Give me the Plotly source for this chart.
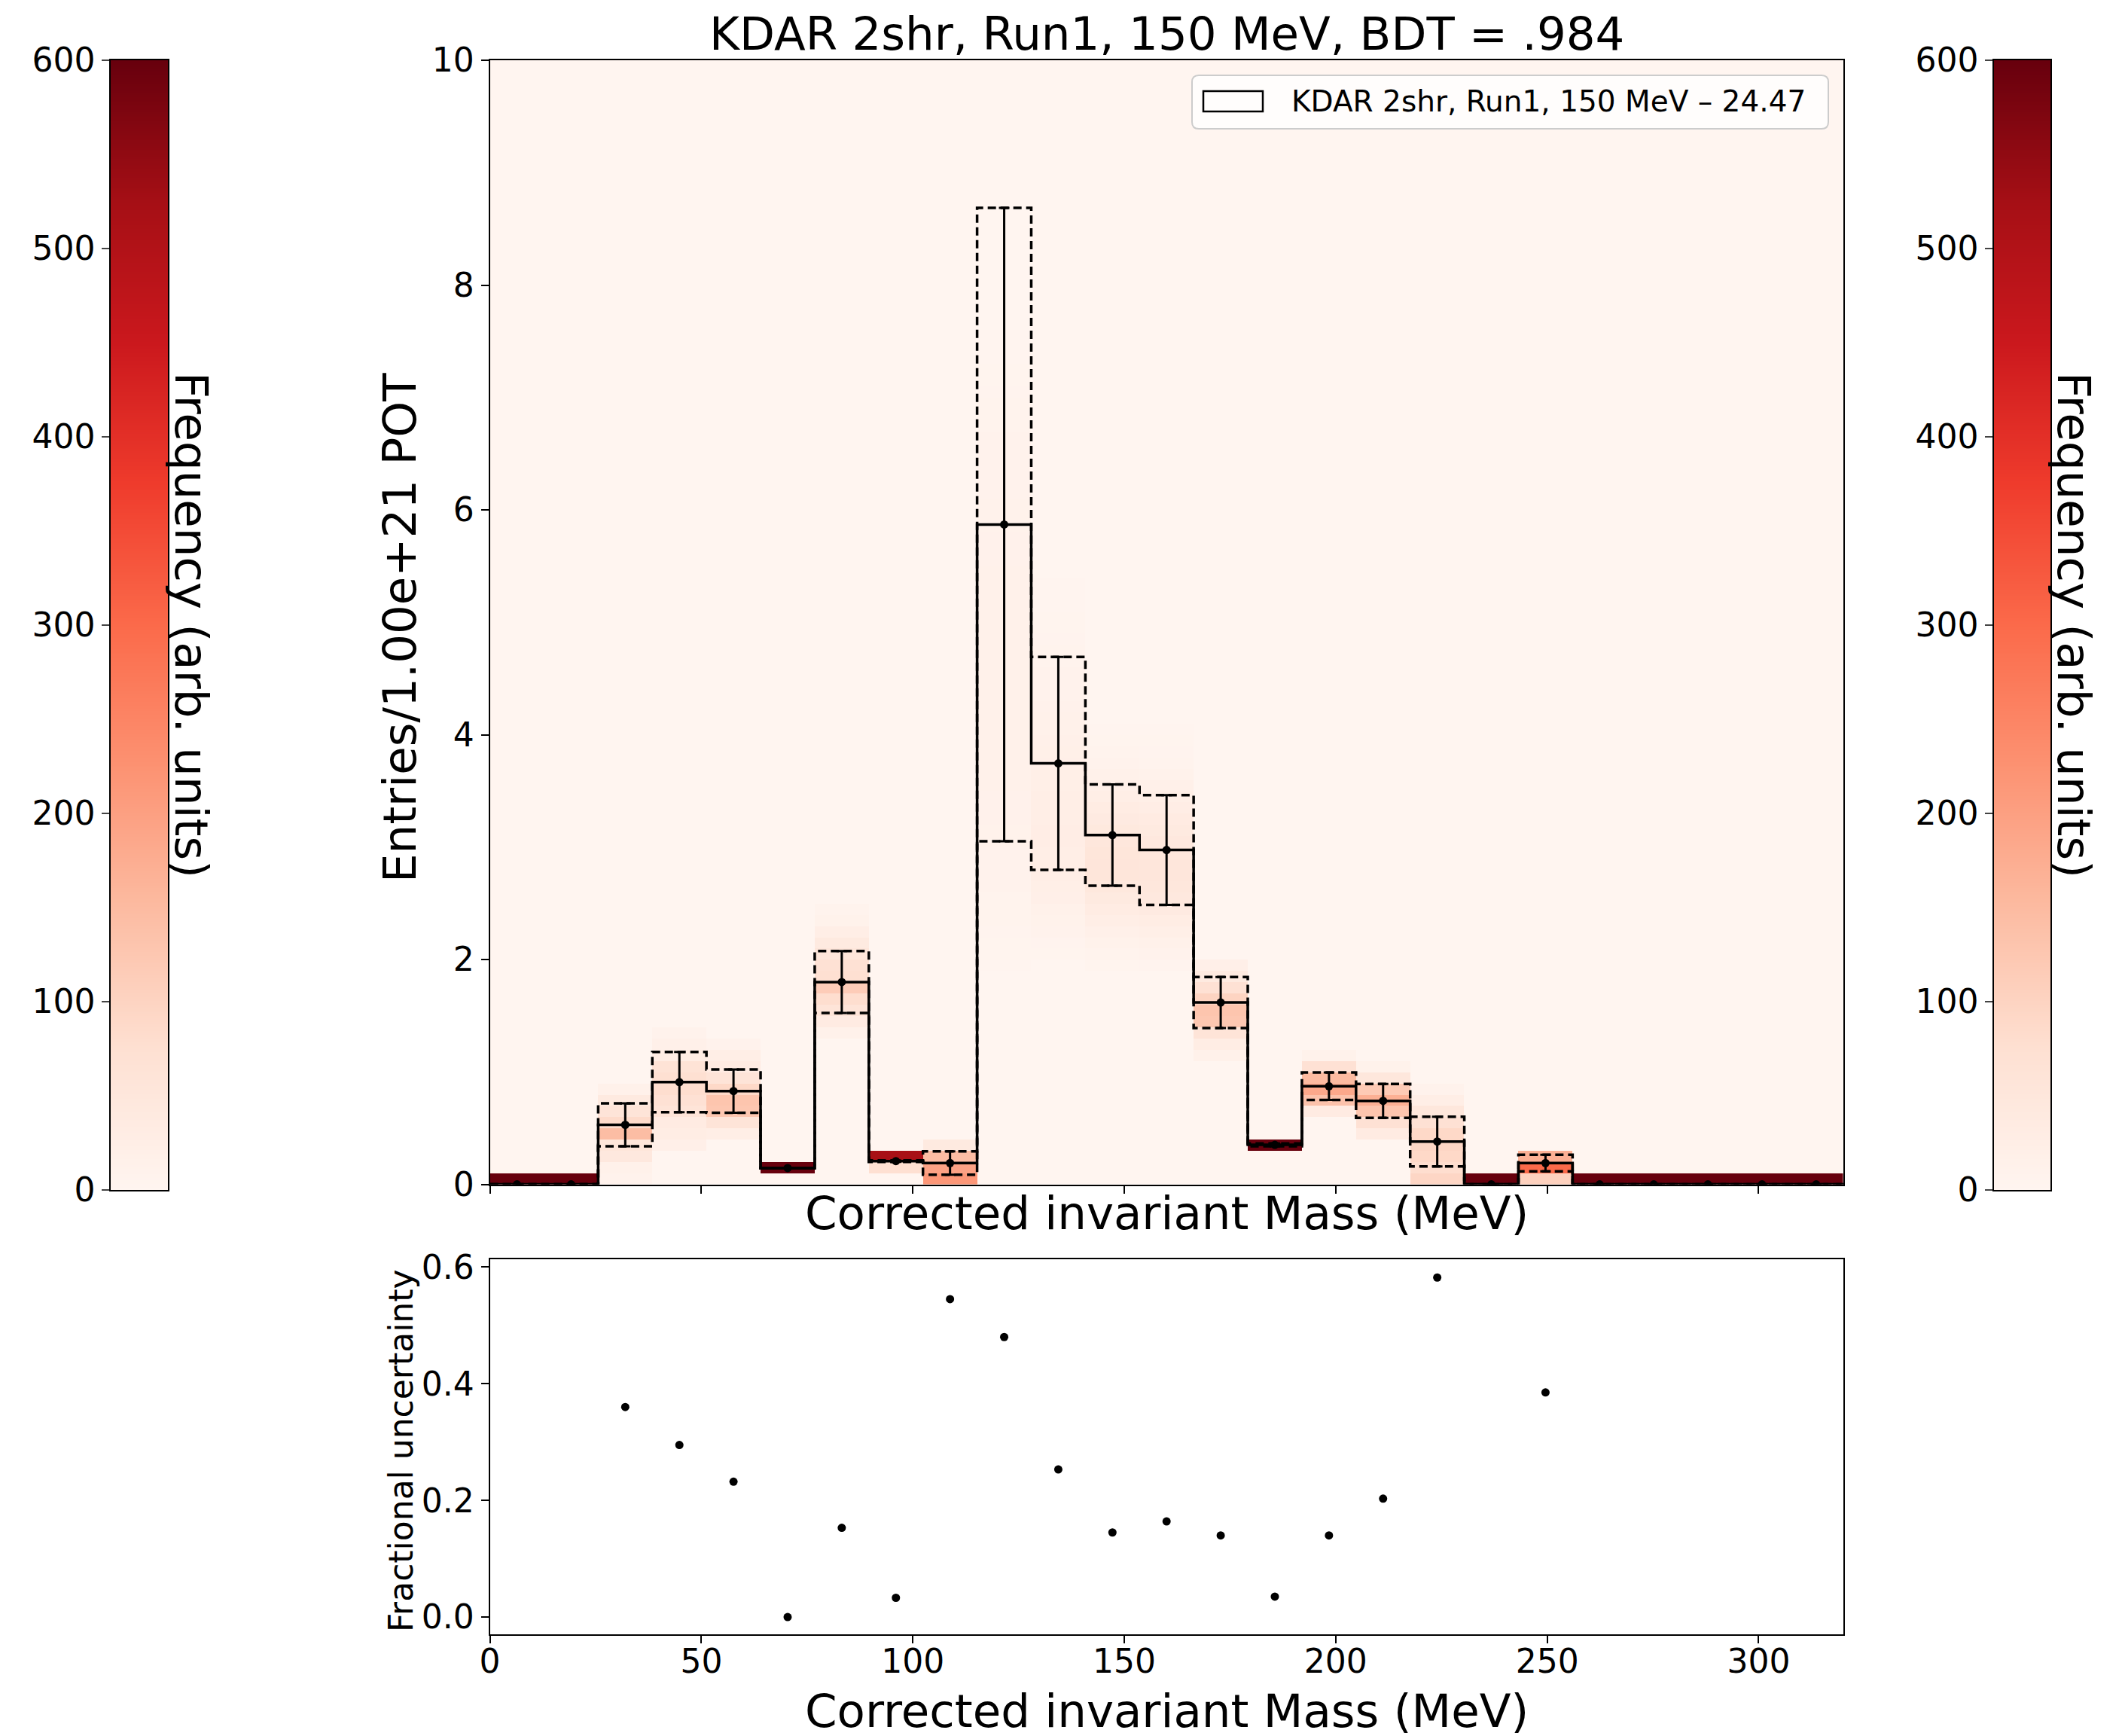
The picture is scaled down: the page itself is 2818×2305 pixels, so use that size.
import numpy as np
import plotly.graph_objects as go

W, H = 2818, 2305
FONT = "DejaVu Sans"

# ---- data -------------------------------------------------------------
# 25 mass bins of 12.8 MeV between 0 and 320 MeV
mass_edges = np.linspace(0.0, 320.0, 26)
mass_centers = 0.5 * (mass_edges[:-1] + mass_edges[1:])

# central value per bin (entries / 1e21 POT)
entries = [0.0, 0.0, 0.53, 0.91, 0.83, 0.145, 1.80, 0.207, 0.19, 5.87,
           3.745, 3.107, 2.975, 1.618, 0.352, 0.873, 0.743, 0.381, 0.0, 0.19,
           0.0, 0.0, 0.0, 0.0, 0.0]

# fractional uncertainty per bin (None where the bin is empty)
frac_unc = [None, None, 0.36, 0.295, 0.232, 0.0, 0.153, 0.033, 0.545, 0.48,
            0.253, 0.145, 0.164, 0.14, 0.035, 0.14, 0.203, 0.582, None, 0.385,
            None, None, None, None, None]

# toy-variation frequencies per bin: (first 0.1-wide row, counts upward)
toy_counts = {
    0: (0, [600]),
    1: (0, [600]),
    2: (0, [10, 15, 45, 55, 145, 85, 60, 40, 15]),
    3: (3, [20, 30, 35, 60, 70, 80, 75, 65, 30, 18, 10]),
    4: (4, [25, 60, 125, 130, 90, 60, 35, 25, 10]),
    5: (1, [600]),
    6: (13, [15, 35, 60, 80, 115, 75, 70, 55, 40, 25, 12, 8]),
    7: (1, [75, 520]),
    8: (0, [215, 195, 145, 40]),
    9: (19, [3, 4, 5, 6, 7, 8, 8, 9, 10, 10, 11,
             12, 12, 13, 13, 13, 14, 14, 14, 15, 15, 15, 15, 16, 16, 16, 16,
             16, 16, 15, 15, 15, 15, 14, 14, 14, 13, 13, 13, 12, 12, 12, 11,
             11, 10, 10, 9, 9, 8, 8, 7, 6, 5, 4, 3, 3, 2]),
    10: (20, [4, 6, 9, 12, 16, 20, 22, 24, 25, 26, 27, 27, 26, 25, 24, 23, 22,
              20, 19, 17, 16, 14, 13, 11, 10, 9, 8, 7, 6, 5, 4, 3, 3, 2]),
    11: (19, [5, 8, 12, 18, 25, 32, 40, 48, 54, 56, 55, 50, 44, 38, 32, 26,
              20, 15, 11, 8, 5, 3]),
    12: (19, [6, 10, 15, 22, 30, 38, 45, 50, 52, 52, 50, 45, 40, 34, 28, 22,
              17, 12, 8, 6, 4, 2]),
    13: (11, [15, 30, 60, 125, 130, 100, 70, 40, 20]),
    14: (3, [600]),
    15: (6, [35, 135, 185, 150, 70, 12]),
    16: (4, [35, 70, 130, 170, 120, 50, 12]),
    17: (0, [95, 80, 90, 95, 90, 70, 50, 25, 10]),
    18: (0, [600]),
    19: (0, [105, 300, 170]),
    20: (0, [600]),
    21: (0, [600]),
    22: (0, [600]),
    23: (0, [600]),
    24: (0, [600]),
}

legend_label = "KDAR 2shr, Run1, 150 MeV \u2013 24.47"
title_text = "KDAR 2shr, Run1, 150 MeV, BDT = .984"

# ---- derived arrays ---------------------------------------------------
entries = np.array(entries)
frac_arr = np.array([f if f is not None else 0.0 for f in frac_unc])
errors = entries * frac_arr
upper = entries + errors
lower = entries - errors

n_rows = 100
row_centers = 0.05 + 0.1 * np.arange(n_rows)
z = np.zeros((n_rows, len(mass_centers)))
for ib, (start, counts) in toy_counts.items():
    for k, c in enumerate(counts):
        z[start + k, ib] = c

REDS = [[0.0, "#fff5f0"], [0.125, "#fee0d2"], [0.25, "#fcbba1"],
        [0.375, "#fc9272"], [0.5, "#fb6a4a"], [0.625, "#ef3b2c"],
        [0.75, "#cb181d"], [0.875, "#a50f15"], [1.0, "#67000d"]]


def step_y(vals):
    return list(vals) + [vals[-1]]


fig = go.Figure()

# toy frequency map
fig.add_trace(go.Heatmap(
    x=mass_centers, y=row_centers, z=z, zmin=0, zmax=600,
    colorscale=REDS, showscale=False, hoverinfo="skip",
    xaxis="x", yaxis="y"))

# +/- 1 sigma envelopes
for band in (upper, lower):
    fig.add_trace(go.Scatter(
        x=mass_edges, y=step_y(band), mode="lines", line_shape="hv",
        line=dict(color="black", width=3.5, dash="11px,6px"),
        showlegend=False, hoverinfo="skip", xaxis="x", yaxis="y"))

# central histogram
fig.add_trace(go.Scatter(
    x=mass_edges, y=step_y(entries), mode="lines", line_shape="hv",
    line=dict(color="black", width=3.5),
    showlegend=False, hoverinfo="skip", xaxis="x", yaxis="y"))

# points with error bars
fig.add_trace(go.Scatter(
    x=mass_centers, y=entries, mode="markers",
    marker=dict(color="black", size=11),
    error_y=dict(type="data", array=errors, visible=True, color="black",
                 thickness=3, width=7),
    showlegend=False, hoverinfo="skip", xaxis="x", yaxis="y"))

# fractional uncertainty panel
fx = [c for c, f in zip(mass_centers, frac_unc) if f is not None]
fy = [f for f in frac_unc if f is not None]
fig.add_trace(go.Scatter(
    x=fx, y=fy, mode="markers", marker=dict(color="black", size=11),
    showlegend=False, hoverinfo="skip", xaxis="x2", yaxis="y2"))

# colour bars (left and right)
levels = np.linspace(0, 600, 601)
for xa, ya in (("x3", "y3"), ("x4", "y4")):
    fig.add_trace(go.Heatmap(
        x=[0], y=levels, z=[[v] for v in levels], zmin=0, zmax=600,
        colorscale=REDS, showscale=False, hoverinfo="skip",
        xaxis=xa, yaxis=ya))

# ---- layout -----------------------------------------------------------
def px_x(p):
    return p / W


def px_y(p):
    return 1 - p / H


tickfont = dict(family=FONT, size=44, color="black")
ax = dict(showline=True, linecolor="black", linewidth=2, mirror=True,
          ticks="outside", ticklen=10, tickwidth=2, tickcolor="black",
          showgrid=False, zeroline=False, tickfont=tickfont, automargin=False)

main_x = [px_x(650.6), px_x(2447.8)]
cb_ax = dict(showline=True, linecolor="black", linewidth=1.5, mirror=True,
             showgrid=False, zeroline=False, automargin=False)

fig.update_layout(
    width=W, height=H,
    margin=dict(l=0, r=0, t=0, b=0, pad=0, autoexpand=False),
    paper_bgcolor="white", plot_bgcolor="white", showlegend=False,
    font=dict(family=FONT, color="black"),
    xaxis=dict(ax, domain=main_x, range=[0, 320], anchor="y",
               tickvals=[0, 50, 100, 150, 200, 250, 300], showticklabels=False),
    yaxis=dict(ax, domain=[px_y(1572.6), px_y(80)], range=[0, 10], anchor="x",
               tickvals=[0, 2, 4, 6, 8, 10]),
    xaxis2=dict(ax, domain=main_x, range=[0, 320], anchor="y2",
                tickvals=[0, 50, 100, 150, 200, 250, 300],
                ticklabelstandoff=-14),
    yaxis2=dict(ax, domain=[px_y(2170), px_y(1672)], range=[-0.0296, 0.6133],
                anchor="x2", tickvals=[0, 0.2, 0.4, 0.6],
                ticktext=["0.0", "0.2", "0.4", "0.6"]),
    xaxis3=dict(cb_ax, domain=[px_x(147), px_x(223)], range=[-0.5, 0.5],
                anchor="y3", showticklabels=False, ticks=""),
    yaxis3=dict(cb_ax, domain=[px_y(1580), px_y(80)], range=[0, 600],
                anchor="x3", side="left", ticks="outside", ticklen=10,
                tickwidth=2, tickvals=list(range(0, 601, 100)), tickfont=tickfont),
    xaxis4=dict(cb_ax, domain=[px_x(2648), px_x(2723)], range=[-0.5, 0.5],
                anchor="y4", showticklabels=False, ticks=""),
    yaxis4=dict(cb_ax, domain=[px_y(1580), px_y(80)], range=[0, 600],
                anchor="x4", side="left", ticks="outside", ticklen=10,
                tickwidth=2, tickvals=list(range(0, 601, 100)), tickfont=tickfont),
)

big = dict(family=FONT, size=61, color="black")
small = dict(family=FONT, size=44, color="black")
annotations = [
    dict(text=title_text, x=px_x(1549), y=px_y(45), font=big),
    dict(text="Corrected invariant Mass (MeV)", x=px_x(1549), y=px_y(1610), font=big),
    dict(text="Corrected invariant Mass (MeV)", x=px_x(1549), y=px_y(2271), font=big,
         height=62, valign="middle"),
    dict(text="Entries/1.00e+21 POT", x=px_x(530), y=px_y(834), font=big, textangle=-90),
    dict(text="Fractional uncertainty", x=px_x(532), y=px_y(1926), font=small, textangle=-90),
    dict(text="Frequency (arb. units)", x=px_x(255), y=px_y(830), font=big, textangle=90),
    dict(text="Frequency (arb. units)", x=px_x(2755), y=px_y(830), font=big, textangle=90),
    dict(text=legend_label, x=px_x(1713), y=px_y(135), font=dict(family=FONT, size=39, color="black"),
         xanchor="left"),
]
for a in annotations:
    a.setdefault("xanchor", "center")
    a.update(xref="paper", yref="paper", yanchor="middle", showarrow=False)
fig.update_layout(annotations=annotations)


# legend frame with rounded corners
def rounded_rect(x0, y0, x1, y1, r):
    X0, X1 = px_x(x0), px_x(x1)
    Yt, Yb = px_y(y0), px_y(y1)
    rx, ry = r / W, r / H
    return (f"M {X0 + rx},{Yt} L {X1 - rx},{Yt} Q {X1},{Yt} {X1},{Yt - ry} "
            f"L {X1},{Yb + ry} Q {X1},{Yb} {X1 - rx},{Yb} L {X0 + rx},{Yb} "
            f"Q {X0},{Yb} {X0},{Yb + ry} L {X0},{Yt - ry} Q {X0},{Yt} {X0 + rx},{Yt} Z")


fig.add_shape(type="path", xref="paper", yref="paper",
              path=rounded_rect(1583, 100, 2428, 171, 9),
              fillcolor="rgba(255,255,255,0.8)", line=dict(color="#cccccc", width=2))
fig.add_shape(type="rect", xref="paper", yref="paper",
              x0=px_x(1598), x1=px_x(1677), y0=px_y(148), y1=px_y(121),
              fillcolor="rgba(0,0,0,0)", line=dict(color="black", width=2.5))

fig.write_html("out.html")
